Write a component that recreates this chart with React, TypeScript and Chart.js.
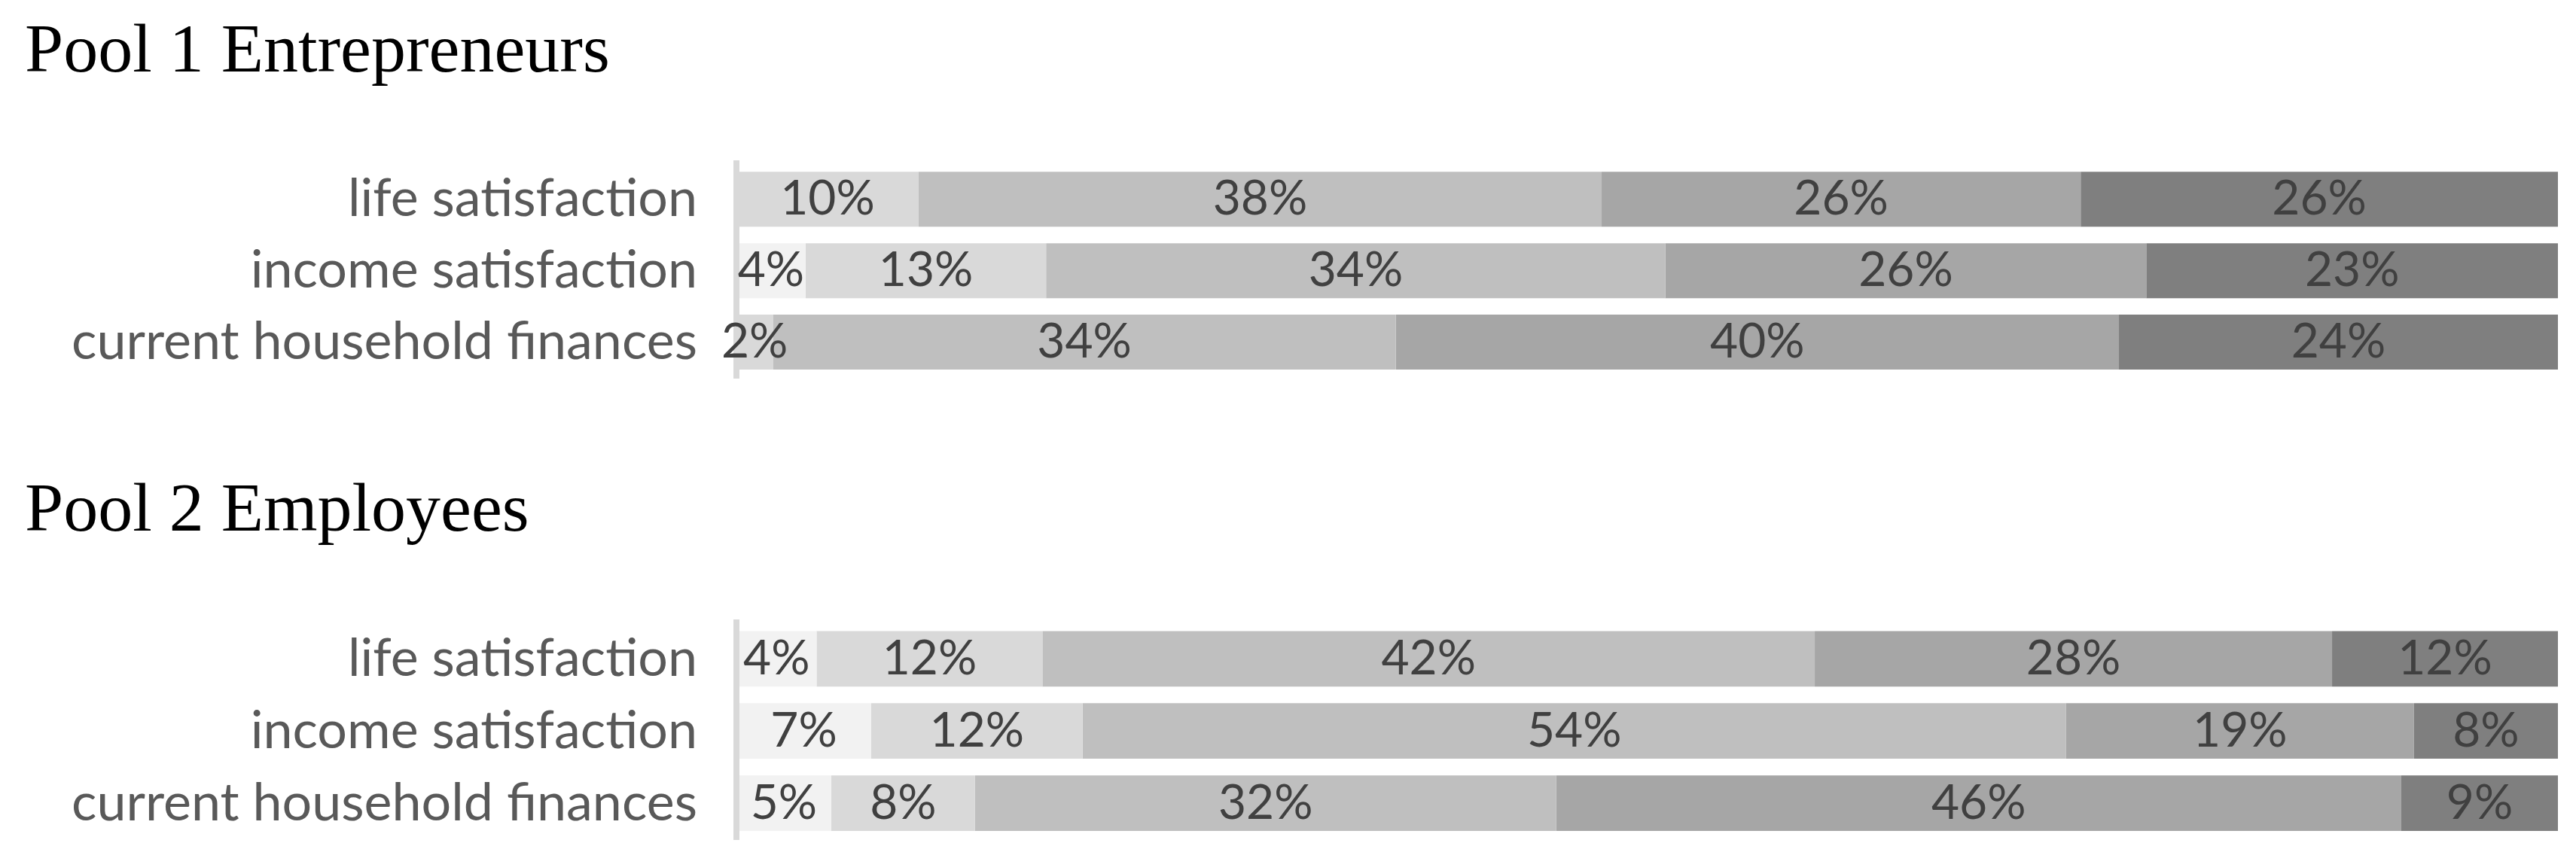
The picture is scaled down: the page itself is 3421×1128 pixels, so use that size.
import React, { useEffect, useRef } from "react";
import { Chart, registerables } from "chart.js";

Chart.register(...registerables);

// ---------- data ----------
const categories = ["life satisfaction", "income satisfaction", "current household finances"];
const seriesNames = ["level 1", "level 2", "level 3", "level 4", "level 5"];
const seriesColors = ["#F2F2F2", "#D9D9D9", "#BFBFBF", "#A6A6A6", "#7F7F7F"];

// Pool 1 Entrepreneurs (percent of respondents per level, by category)
const pool1Level1 = [0, 3.8, 0];
const pool1Level2 = [10.0, 13.2, 2.0];
const pool1Level3 = [37.5, 34.0, 34.2];
const pool1Level4 = [26.3, 26.4, 39.7];
const pool1Level5 = [26.2, 22.6, 24.1];

// Pool 2 Employees
const pool2Level1 = [4.4, 7.4, 5.2];
const pool2Level2 = [12.4, 11.6, 7.9];
const pool2Level3 = [42.4, 54.0, 31.9];
const pool2Level4 = [28.4, 19.1, 46.4];
const pool2Level5 = [12.4, 7.9, 8.6];

const pool1Title = "Pool 1 Entrepreneurs";
const pool2Title = "Pool 2 Employees";

const pool1Series = [pool1Level1, pool1Level2, pool1Level3, pool1Level4, pool1Level5];
const pool2Series = [pool2Level1, pool2Level2, pool2Level3, pool2Level4, pool2Level5];

// ---------- plugin: centered value labels ----------
const valueLabels = {
  id: "valueLabels",
  afterDraw(chart: any) {
    const ctx = chart.ctx;
    ctx.save();
    ctx.font = "64px Lato";
    ctx.fillStyle = "#404040";
    ctx.textAlign = "center";
    ctx.textBaseline = "middle";
    chart.data.datasets.forEach((ds: any, i: number) => {
      const meta = chart.getDatasetMeta(i);
      meta.data.forEach((el: any, j: number) => {
        const v = ds.data[j] as number;
        if (!v) return;
        const p = el.getProps(["x", "y", "base"], true);
        ctx.fillText(Math.round(v) + "%", (p.x + p.base) / 2, p.y);
      });
    });
    ctx.restore();
  },
};

type PoolProps = {
  title: string;
  series: number[][];
  titlePadTop: number;
  titlePadBottom: number;
  padBottom: number;
  height: number;
};

function PoolChart({ title, series, titlePadTop, titlePadBottom, padBottom, height }: PoolProps) {
  const ref = useRef<HTMLCanvasElement | null>(null);

  useEffect(() => {
    if (!ref.current) return;
    const chart = new Chart(ref.current, {
      type: "bar",
      data: {
        labels: categories,
        datasets: series.map((d, i) => ({
          label: seriesNames[i],
          data: d,
          backgroundColor: seriesColors[i],
          borderWidth: 0,
          barPercentage: 0.77,
          categoryPercentage: 1,
        })),
      },
      options: {
        indexAxis: "y",
        responsive: false,
        animation: false,
        devicePixelRatio: 1,
        layout: { padding: { left: 33, right: 24, top: 0, bottom: padBottom } },
        plugins: {
          legend: { display: false },
          tooltip: { enabled: false },
          title: {
            display: true,
            text: title,
            align: "start",
            color: "#000000",
            font: { family: "'Liberation Serif', serif", size: 92, weight: "normal", lineHeight: 1.2 },
            padding: { top: titlePadTop, bottom: titlePadBottom },
          },
        },
        scales: {
          x: { stacked: true, min: 0, max: 100, display: false },
          y: {
            stacked: true,
            grid: { display: false, drawTicks: false },
            border: { display: true, color: "#D9D9D9", width: 8, z: 1 },
            ticks: {
              color: "#595959",
              font: { family: "Lato", size: 70 },
              padding: 52,
            },
            afterFit: (s: any) => {
              s.width = 978 - 33;
              s.paddingTop = 0;
              s.paddingBottom = 0;
            },
          },
        },
      } as any,
      plugins: [valueLabels],
    });
    return () => chart.destroy();
  }, []);

  return <canvas ref={ref} width={3421} height={height} style={{ display: "block" }} />;
}

export default function App() {
  return (
    <div style={{ position: "absolute", left: 0, top: 0, width: 3421, height: 1128, background: "#ffffff" }}>
      <PoolChart title={pool1Title} series={pool1Series} titlePadTop={16} titlePadBottom={91} padBottom={62} height={564} />
      <PoolChart title={pool2Title} series={pool2Series} titlePadTop={62} titlePadBottom={91} padBottom={13} height={564} />
    </div>
  );
}
